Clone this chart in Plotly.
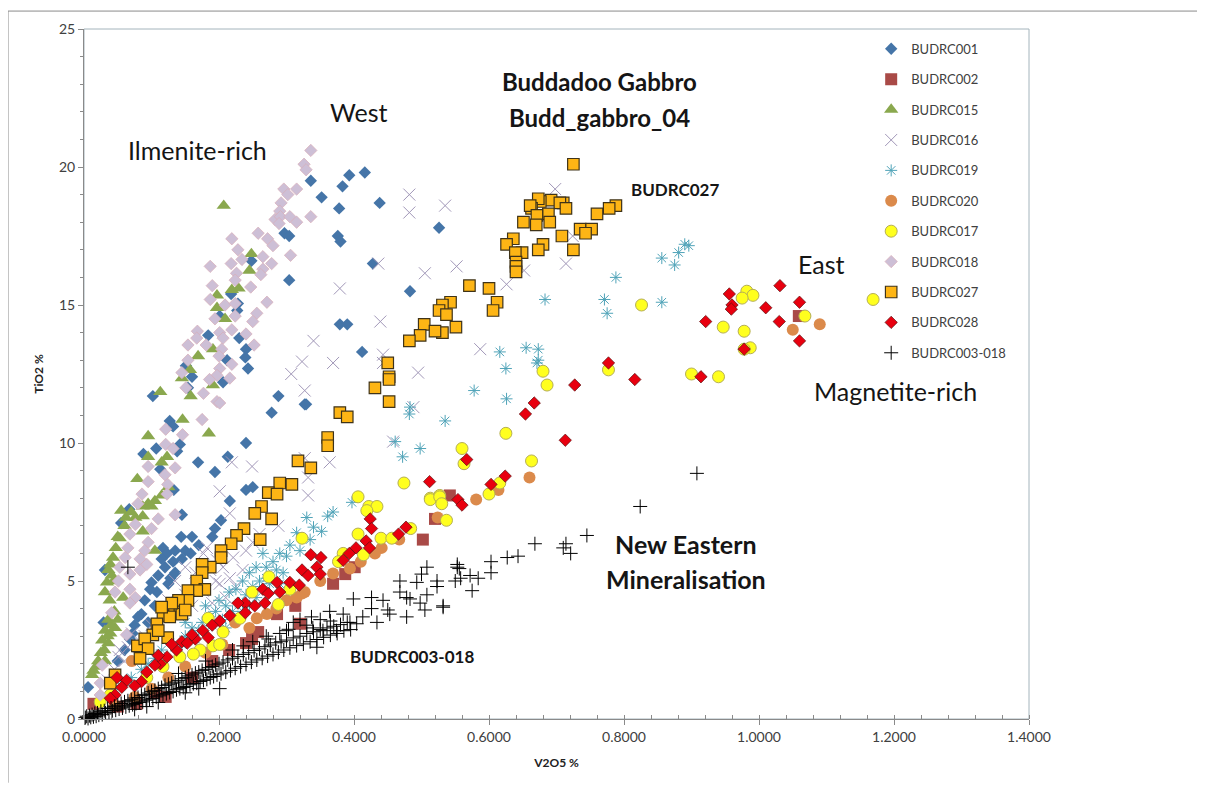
import plotly.graph_objects as go

BUDRC001 = [(.416,19.8),(.393,19.7),(.383,19.3),(.336,19.5),(.352,18.9),(.378,18.5),(.438,18.7),(.297,17.6),(.304,17.5),(.376,17.5),
(.380,17.3),(.428,16.5),(.248,16.6),(.304,15.9),(.379,14.3),(.390,14.3),(.218,15.4),(.228,15.05),(.227,14.8),(.201,14.6),(.184,13.9),
(.230,13.8),(.240,13.4),(.239,13.1),(.212,13.0),(.243,12.7),(.412,13.3),(.151,12.8),(.160,12.4),(.206,12.2),(.288,11.7),(.102,11.7),
(.154,12.0),(.327,11.4),(.526,17.8),(.483,15.5),(.127,10.8),(.132,10.6),(.107,9.8),(.088,9.6),(.142,9.95),(.138,9.7),(.113,9.05),
(.169,9.3),(.213,9.5),(.194,8.95),(.240,10.0),(.278,11.1),(.329,11.4),(.133,8.3),(.240,8.3),(.250,8.4),(.216,7.9),(.067,7.6),(.055,7.1),
(.145,7.4),(.203,7.2),(.194,6.9),(.190,6.6),(.144,6.6),(.117,6.2),(.123,6.0),(.132,5.7),(.110,5.2),(.100,4.95),(.108,4.6),(.120,5.5),
(.090,4.3),(.085,3.8),(.075,3.4),(.080,3.7),(.031,5.4),(.029,3.5),(.006,1.15),(.125,4.9),(.135,5.3),(.145,5.8),(.158,6.0),(.170,6.3),
(.105,4.1),(.095,3.5),(.150,6.1),(.115,5.8),(.128,5.1),(.098,4.7),(.135,6.1),(.160,6.6),(.068,2.9),(.060,2.5),(.050,2.1),(.072,3.1)]

BUDRC002 = [(1.059,14.6),(.542,8.1),(.520,7.25),(.502,6.5),(.401,5.5),(.387,5.25),(.369,4.9),(.313,4.1),(.286,3.8),(.258,3.15),
(.249,2.9),(.320,3.45),(.121,.8),(.014,.55),(.078,.55),(.215,2.5),(.190,2.1),(.160,1.5),(.240,2.75),(.105,.95),(.050,.45)]

BUDRC015 = [(.207,18.6),(.248,16.85),(.245,16.25),(.229,15.6),(.219,15.55),(.197,15.35),(.197,14.9),(.209,14.5),(.191,13.4),(.169,13.15),
(.157,12.65),(.145,12.35),(.191,12.1),(.113,11.85),(.158,11.7),(.146,10.85),(.095,10.25),(.185,10.35),(.095,9.5),(.123,9.5),(.115,9.3),
(.079,8.7),(.105,7.9),(.095,7.8),(.087,7.7),(.055,7.55),(.087,7.35),(.076,7.3),(.053,6.55),(.087,6.8),(.043,5.85),(.039,5.6),(.036,5.4),
(.034,4.95),(.031,4.6),(.105,6.1),(.058,4.4),(.036,3.6),(.046,3.3),(.031,3.2),(.039,3.1),(.027,2.85),(.036,2.75),(.021,2.1),(.031,2.1),
(.014,1.75),(.012,1.6),(.047,6.2),(.050,6.6),(.060,7.0),(.041,5.2),(.038,4.3),(.045,3.9),(.040,3.4),(.050,3.6),(.025,2.4),(.018,1.9),
(.030,2.5),(.035,3.0),(.044,5.0),(.062,7.3),(.070,7.5),(.100,7.7),(.115,8.1),(.125,8.4)]

BUDRC016 = [(.698,19.2),(.724,17.5),(.714,16.5),(.626,15.75),(.652,16.25),(.587,13.4),(.495,12.55),(.488,11.3),(.505,16.15),(.552,16.4),
(.535,18.6),(.482,19.0),(.482,18.35),(.379,15.6),(.439,14.4),(.340,13.7),(.369,12.9),(.323,12.95),(.307,12.5),(.443,13.2),(.436,16.5),
(.327,11.9),(.443,12.9),(.458,10.05),(.364,9.3),(.327,9.45),(.332,8.75),(.332,8.1),(.249,9.15),(.219,9.3),(.201,8.25),(.216,7.45),(.288,7.0),
(.182,6.2),(.177,6.0),(.197,5.75),(.187,5.4),(.135,5.0),(.206,5.5),(.221,5.85),(.201,4.9),(.216,5.1),(.176,4.65),(.071,3.1),(.053,2.5),
(.051,2.25),(.240,6.1),(.225,4.8),(.210,4.4),(.190,4.2),(.160,4.1),(.150,4.5),(.165,5.3),(.150,5.5),(.125,4.3),(.115,3.8),(.100,3.4),
(.090,3.0),(.080,2.7),(.065,2.6),(.060,2.1),(.045,1.8),(.035,1.4),(.250,6.4),(.235,5.4),(.260,6.7),(.195,5.0),(.175,5.5),(.140,4.0)]

BUDRC019 = [(.890,17.2),(.881,16.9),(.856,16.7),(.875,16.45),(.896,17.15),(.788,16.0),(.856,15.1),(.771,15.2),(.775,14.7),(.683,15.2),
(.655,13.45),(.673,13.4),(.616,13.3),(.673,13.0),(.671,12.9),(.625,12.7),(.626,11.6),(.578,11.9),(.482,11.05),(.483,11.3),(.535,10.8),
(.498,9.8),(.472,9.5),(.461,10.05),(.397,7.85),(.369,7.5),(.361,7.35),(.330,7.3),(.340,6.95),(.352,6.8),(.315,6.75),(.305,6.3),(.290,6.0),
(.280,5.7),(.300,5.9),(.270,5.5),(.285,5.4),(.265,6.0),(.255,5.5),(.270,5.1),(.245,5.3),(.235,5.0),(.260,5.0),(.250,4.8),(.225,4.7),(.240,4.5),
(.215,4.6),(.230,4.2),(.210,4.1),(.200,4.3),(.220,3.9),(.195,3.9),(.205,3.6),(.185,3.7),(.175,3.5),(.190,3.4),(.170,3.2),(.160,3.3),(.150,3.0),
(.165,2.9),(.145,2.7),(.135,2.6),(.150,3.5),(.180,4.1),(.125,2.9),(.115,2.5),(.105,2.2),(.095,2.0),(.085,1.8),(.070,1.5),(.055,1.2),
(.245,4.1),(.255,4.4),(.275,4.9),(.320,6.1),(.335,6.5),(.295,5.3),(.210,3.3),(.225,3.6),(.235,3.9),(.290,4.9)]

BUDRC020 = [(1.090,14.3),(1.050,14.1),(.660,8.75),(.614,8.3),(.581,7.95),(.524,7.3),(.467,6.5),(.441,6.2),(.431,6.0),(.394,5.45),(.369,5.27),
(.327,4.6),(.315,4.4),(.323,4.55),(.271,3.8),(.256,3.65),(.224,3.5),(.071,2.1),(.300,4.3),(.245,3.3),(.205,2.7),(.180,2.4),(.150,1.9),
(.125,1.5),(.100,1.1),(.075,.8),(.045,.5),(.285,4.0),(.350,5.0),(.410,5.7)]

BUDRC017 = [(1.169,15.2),(1.068,14.6),(.826,15.0),(.982,15.5),(.991,15.35),(.975,15.25),(.947,14.2),(.978,14.05),(.987,13.45),(.978,13.4),
(.900,12.5),(.940,12.4),(.777,12.65),(.680,12.6),(.686,12.1),(.625,10.35),(.560,9.8),(.563,9.25),(.663,9.35),(.616,8.55),(.600,8.15),
(.474,8.55),(.527,8.1),(.513,8.0),(.513,7.95),(.527,8.05),(.530,7.8),(.537,7.2),(.406,8.05),(.422,7.7),(.434,7.7),(.419,7.55),(.406,6.7),
(.440,6.55),(.456,6.55),(.484,6.9),(.323,6.55),(.384,6.0),(.414,5.95),(.377,5.7),(.274,5.15),(.249,4.6),(.184,3.65),(.305,4.7),(.288,4.15),
(.231,3.65),(.206,3.15),(.191,2.65),(.172,2.5),(.162,2.35),(.201,2.7),(.142,2.25),(.117,1.9),(.093,1.5),(.024,.62),(.039,.87)]

BUDRC018 = [(.336,20.6),(.326,20.1),(.329,19.9),(.296,19.2),(.315,19.2),(.302,19.0),(.292,18.7),(.290,18.4),(.336,18.2),(.283,18.1),(.291,18.2),
(.305,18.2),(.289,17.95),(.315,18.0),(.258,17.6),(.219,17.4),(.272,17.4),(.280,17.15),(.228,17.0),(.265,16.75),(.234,16.65),(.306,16.8),
(.218,16.5),(.187,16.4),(.278,16.5),(.265,16.3),(.262,16.1),(.226,16.15),(.224,15.9),(.190,15.7),(.247,15.65),(.187,15.2),(.271,15.1),
(.209,15.0),(.224,15.05),(.224,14.6),(.194,14.5),(.256,14.7),(.250,14.4),(.168,14.05),(.240,13.95),(.201,14.0),(.219,14.1),(.167,13.8),
(.206,13.8),(.154,13.55),(.181,13.55),(.252,13.55),(.204,13.4),(.200,13.15),(.154,13.0),(.219,12.85),(.201,12.7),(.145,12.55),(.197,12.45),
(.216,12.35),(.186,12.3),(.151,12.0),(.177,11.8),(.197,11.5),(.201,11.45),(.175,10.85),(.121,10.5),(.146,10.3),(.121,9.95),(.132,9.8),
(.095,9.15),(.135,9.1),(.120,8.85),(.095,8.6),(.124,8.5),(.123,8.15),(.086,8.15),(.080,7.8),(.135,7.4),(.110,7.25),(.076,7.05),(.100,6.9),
(.068,6.7),(.095,6.4),(.065,6.2),(.090,6.1),(.061,5.85),(.083,5.8),(.053,5.5),(.093,5.6),(.068,5.25),(.051,5.0),(.083,5.4),(.046,4.6),
(.068,4.7),(.076,4.4),(.068,4.2),(.041,3.85),(.063,3.05),(.027,1.95),(.024,1.3),(.024,.87)]

BUDRC027 = [(.725,20.1),(.788,18.6),(.778,18.5),(.760,18.3),(.692,18.8),(.676,18.75),(.673,18.85),(.710,18.7),(.705,18.7),(.714,18.5),(.663,18.5),
(.661,18.6),(.688,18.3),(.671,18.25),(.651,18.0),(.690,18.0),(.670,17.9),(.735,17.75),(.752,17.75),(.743,17.6),(.708,17.5),(.636,17.4),(.626,17.2),
(.680,17.2),(.673,17.0),(.725,17.0),(.649,16.9),(.639,16.9),(.640,16.55),(.640,16.4),(.640,16.2),(.571,15.7),(.600,15.6),(.612,15.1),(.606,14.8),
(.543,15.1),(.531,15.0),(.526,14.8),(.537,14.65),(.551,14.2),(.504,14.3),(.531,14.0),(.520,14.05),(.498,13.9),(.482,13.7),(.450,12.9),(.452,12.4),
(.452,12.3),(.452,11.5),(.431,12.0),(.379,11.1),(.390,10.95),(.361,10.2),(.361,9.9),(.317,9.35),(.336,9.1),(.290,8.55),(.308,8.5),(.273,8.2),
(.286,8.15),(.263,7.7),(.253,7.45),(.278,7.25),(.261,6.5),(.237,6.9),(.226,6.65),(.218,6.35),(.203,6.1),(.203,5.85),(.187,5.5),(.175,5.6),
(.175,5.3),(.167,5.0),(.179,4.7),(.167,4.65),(.154,4.65),(.154,4.3),(.137,4.1),(.125,4.0),(.145,3.8),(.117,3.75),(.108,3.45),(.127,3.7),
(.102,3.05),(.124,2.95),(.079,2.65),(.090,2.9),(.095,2.55),(.083,2.2),(.046,1.6),(.039,1.3),(.140,4.3),(.130,4.2),(.115,4.05),(.150,3.95),(.110,3.2)]

BUDRC028 = [(.777,12.9),(.816,12.3),(.727,12.1),(.667,11.45),(.654,11.05),(.713,10.1),(.914,12.4),(.921,14.4),(.978,13.4),(1.030,14.4),(1.010,14.9),
(1.031,15.7),(.956,15.4),(.960,15.0),(.959,14.85),(1.060,15.1),(1.060,13.7),(.567,9.4),(.512,8.6),(.624,8.8),(.603,8.5),(.554,7.95),(.560,7.75),
(.424,7.25),(.426,6.9),(.477,6.95),(.466,6.7),(.418,6.45),(.423,6.2),(.403,6.2),(.393,6.0),(.384,5.75),(.336,5.95),(.351,5.85),(.345,5.5),(.323,5.4),
(.350,5.25),(.332,5.2),(.305,4.95),(.319,4.85),(.286,4.95),(.265,4.7),(.290,4.6),(.273,4.55),(.268,4.2),(.253,4.1),(.239,4.2),(.228,4.2),(.239,3.85),
(.216,3.75),(.201,3.55),(.176,3.2),(.184,2.95),(.165,2.9),(.145,2.8),(.153,2.75),(.137,2.5),(.123,2.25),(.113,2.0),(.105,1.95),(.093,1.7),(.063,1.4),
(.049,1.5),(.056,1.15),(.046,.87),(.039,.75),(.130,2.7),(.160,3.05),(.190,3.4),(.110,2.3),(.085,1.35),(.075,1.2)]

BUDRC003_018 = [(.908,8.9),(.824,7.7),(.745,6.65),(.710,6.2),(.721,6.0),(.714,6.35),(.668,6.35),(.627,5.85),(.643,5.9),(.603,5.7),(.603,5.3),(.584,5.1),
(.572,5.2),(.556,5.45),(.553,5.6),(.532,4.1),(.575,4.65),(.558,5.1),(.065,5.5),(.508,5.5),(.553,5.5),(.500,5.25),(.468,5.0),(.493,4.95),(.523,5.0),(.550,5.0),
(.523,4.8),(.508,4.5),(.478,4.4),(.483,4.35),(.468,4.6),(.498,4.2),(.505,3.95),(.532,4.05),(.450,3.95),(.453,3.8),(.478,3.7),(.426,4.4),(.443,4.3),(.426,4.0),
(.399,4.35),(.364,3.9),(.384,3.8),(.434,3.5),(.413,3.7),(.404,3.45),(.394,3.5),(.337,3.7),(.310,3.5),(.303,3.25),(.339,3.3),(.354,3.2),(.374,3.2),(.201,1.1),
(.093,.45),(.345,2.6),(.273,2.9),(.236,2.65),(.002,.05),(.004,.1),(.006,.02),(.008,.12),(.010,.06),(.012,.16),(.014,.08),(.016,.2),(.018,.1),(.020,.22),
(.022,.14),(.025,.28),(.027,.16),(.030,.3),(.032,.22),(.035,.38),(.037,.24),(.040,.4),(.042,.3),(.045,.46),(.047,.32),(.050,.5),(.052,.36),(.055,.56),
(.057,.4),(.060,.62),(.062,.44),(.065,.66),(.067,.48),(.070,.7),(.072,.52),(.075,.76),(.077,.56),(.080,.78),(.082,.6),(.085,.86),(.087,.62),(.090,.88),
(.092,.68),(.095,.94),(.097,.72),(.100,1.0),(.102,.74),(.105,1.04),(.107,.8),(.110,1.1),(.112,.84),(.115,1.14),(.117,.88),(.120,1.22),(.122,.92),(.125,1.26),
(.127,.96),(.130,1.3),(.132,1.0),(.135,1.34),(.137,1.06),(.140,1.4),(.142,1.1),(.145,1.46),(.147,1.14),(.150,1.5),(.152,1.18),(.155,1.56),(.157,1.24),
(.160,1.6),(.162,1.28),(.165,1.66),(.167,1.3),(.170,1.7),(.172,1.36),(.175,1.76),(.177,1.4),(.180,1.8),(.182,1.44),(.185,1.86),(.187,1.5),(.190,1.9),
(.192,1.54),(.195,1.96),(.197,1.6),(.200,2.0),(.203,1.64),(.206,2.06),(.210,1.7),(.213,2.14),(.217,1.76),(.220,2.2),(.224,1.84),(.228,2.26),(.232,1.9),
(.236,2.34),(.240,1.98),(.244,2.4),(.248,2.06),(.252,2.48),(.256,2.14),(.260,2.54),(.264,2.2),(.268,2.62),(.272,2.28),(.276,2.68),(.280,2.34),(.284,2.76),
(.288,2.42),(.292,2.8),(.296,2.5),(.300,2.86),(.305,2.58),(.310,2.94),(.315,2.66),(.320,3.0),(.325,2.72),(.330,3.1),(.335,2.8),(.340,3.16),(.345,2.88),
(.350,3.24),(.355,2.96),(.360,3.3),(.365,3.04),(.370,3.36),(.375,3.1),(.380,3.42),(.385,3.2),(.390,3.5),(.395,3.24),(.330,3.4),(.300,3.2),(.320,3.6),
(.350,3.6),(.365,3.55),(.290,3.1),(.270,3.0),(.250,2.8),(.220,2.5),(.180,2.1),(.140,1.65),(.110,.6),(.075,.35),(.150,.95),(.170,1.1)]

SERIES = [
    ("BUDRC001", BUDRC001, dict(symbol="diamond", size=9.5, color="#4575A8")),
    ("BUDRC002", BUDRC002, dict(symbol="square", size=12, color="#A94A47")),
    ("BUDRC015", BUDRC015, dict(symbol="triangle-up", size=12.5, color="#8AA84E")),
    ("BUDRC016", BUDRC016, dict(symbol="x-thin", size=12, color="#A197B8", line=dict(color="#A197B8", width=1))),
    ("BUDRC019", BUDRC019, dict(symbol="asterisk", size=10, color="#4FA3B8", line=dict(color="#4FA3B8", width=1))),
    ("BUDRC020", BUDRC020, dict(symbol="circle", size=12, color="#DB8A4B")),
    ("BUDRC017", BUDRC017, dict(symbol="circle", size=12, color="#FFFF1E", line=dict(color="#B5AE55", width=1))),
    ("BUDRC018", BUDRC018, dict(symbol="diamond", size=9.5, color="#CDBFD6", line=dict(color="#D9AEB8", width=.7))),
    ("BUDRC027", BUDRC027, dict(symbol="square", size=11.5, color="#FDB515", line=dict(color="#3F3318", width=1.2))),
    ("BUDRC028", BUDRC028, dict(symbol="diamond", size=9.5, color="#E8000F", line=dict(color="#5A1010", width=.7))),
    ("BUDRC003-018", BUDRC003_018, dict(symbol="cross-thin", size=10, color="#000000", line=dict(color="#000000", width=1))),
]

NOTES = [
    ("Ilmenite-rich", .168, 20.6, 25, False), ("West", .408, 22.0, 25, False),
    ("Buddadoo Gabbro", .763, 23.1, 24, True), ("Budd_gabbro_04", .763, 21.8, 24, True),
    ("BUDRC027", .876, 19.2, 17, True), ("East", 1.092, 16.5, 25, False),
    ("Magnetite-rich", 1.202, 11.9, 25, False), ("New Eastern", .892, 6.35, 25, True),
    ("Mineralisation", .892, 5.08, 25, True), ("BUDRC003-018", .486, 2.27, 17, True),
]

fig = go.Figure()
for name, pts, marker in SERIES:
    fig.add_trace(go.Scatter(x=[p[0] for p in pts], y=[p[1] for p in pts], mode="markers", name=name,
                             legendgroup=name, marker=marker, cliponaxis=False))

axis = dict(showgrid=False, zeroline=False, showline=True, linecolor="#8A8A8A", linewidth=1, ticks="outside",
            ticklen=5, tickcolor="#8A8A8A", tickfont=dict(family="Lato", size=14, color="#404040"))
fig.update_xaxes(range=[0, 1.4], dtick=.2, tick0=0, tickformat=".4f",
                 minor=dict(dtick=.04, ticks="inside", ticklen=4, tickcolor="#8A8A8A"),
                 title=dict(text="<b>V2O5 %</b>", font=dict(family="Lato", size=12, color="#222"), standoff=14), **axis)
fig.update_yaxes(range=[0, 25], dtick=5, tick0=0,
                 minor=dict(dtick=1, ticks="outside", ticklen=3, tickcolor="#8A8A8A"),
                 title=dict(text="<b>TiO2 %</b>", font=dict(family="Lato", size=12, color="#222"), standoff=12), **axis)

for text, x, y, size, bold in NOTES:
    fig.add_annotation(x=x, y=y, text=f"<b>{text}</b>" if bold else text, showarrow=False,
                       font=dict(family="Lato", size=size, color="#151515"))

W, H, L, R, T, B = 1189, 775, 76, 168, 18, 64
PW, PH = W - L - R, H - T - B
fig.update_layout(
    width=W, height=H, margin=dict(l=L, r=R, t=T, b=B), paper_bgcolor="white", plot_bgcolor="white",
    showlegend=True, legend=dict(x=.833, y=.993, xanchor="left", yanchor="top", bgcolor="rgba(0,0,0,0)",
                                 font=dict(family="Lato", size=13, color="#404040"), tracegroupgap=10.5),
    shapes=[
        dict(type="rect", xref="paper", yref="paper", x0=0, x1=1, y0=0, y1=1, layer="below",
             line=dict(color="#A4B4BC", width=1)),
        dict(type="line", xref="paper", yref="paper", x0=-L / PW, x1=(W + 8 - L) / PW, y0=1 + T / PH, y1=1 + T / PH,
             line=dict(color="#8A8A8A", width=1)),
        dict(type="line", xref="paper", yref="paper", x0=-L / PW, x1=-L / PW, y0=1 + T / PH, y1=-B / PH,
             line=dict(color="#8A8A8A", width=1)),
    ],
)
fig.write_html("out.html")
